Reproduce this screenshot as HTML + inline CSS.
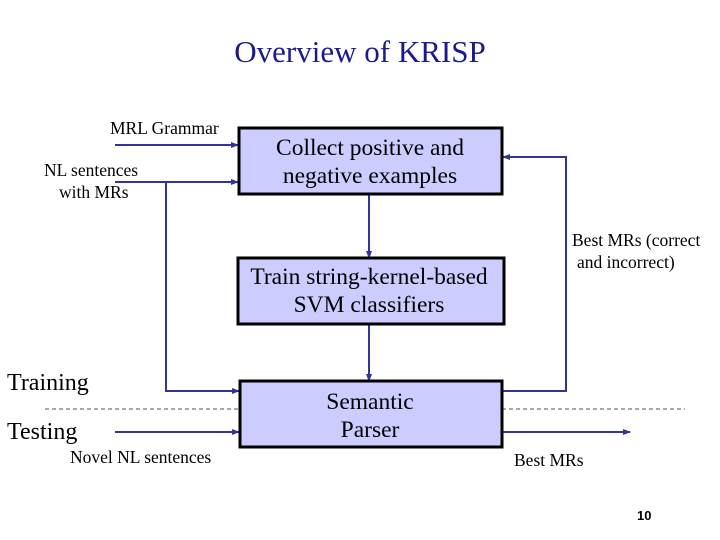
<!DOCTYPE html>
<html><head><style>
body{margin:0;width:720px;height:540px;background:#fff;overflow:hidden}
svg{display:block}
text{font-family:"Liberation Serif",serif;fill:#000}
</style></head><body>
<svg width="720" height="540" viewBox="0 0 720 540">
<defs><marker id="a" markerWidth="8" markerHeight="8" refX="7" refY="4" orient="auto" markerUnits="userSpaceOnUse"><path d="M0,1 L8,4 L0,7 Z" fill="#333399"/></marker></defs>
<text x="360" y="62" text-anchor="middle" font-size="31" style="fill:#1a1a8c">Overview of KRISP</text>
<g stroke="#333399" stroke-width="2" fill="none">
<line x1="115" y1="145" x2="238" y2="145" marker-end="url(#a)"/>
<line x1="115" y1="182" x2="238" y2="182" marker-end="url(#a)"/>
<polyline points="166,182 166,391 239,391" marker-end="url(#a)"/>
<line x1="369" y1="194" x2="369" y2="258" marker-end="url(#a)"/>
<line x1="369" y1="324" x2="369" y2="381" marker-end="url(#a)"/>
<polyline points="502,391 566,391 566,157 503,157" marker-end="url(#a)"/>
<line x1="115" y1="432" x2="239" y2="432" marker-end="url(#a)"/>
<line x1="502" y1="432" x2="630" y2="432" marker-end="url(#a)"/>
</g>
<g stroke="#555" stroke-width="1" stroke-dasharray="4,3">
<line x1="45" y1="409" x2="239" y2="409"/><line x1="502" y1="409" x2="685" y2="409"/>
</g>
<g fill="#ccccff" stroke="#000" stroke-width="3">
<rect x="239" y="128" width="263" height="66"/>
<rect x="238" y="258" width="266" height="66"/>
<rect x="240" y="381" width="262" height="66"/>
</g>
<g font-size="23.5" text-anchor="middle">
<text x="370" y="155">Collect positive and</text>
<text x="370" y="183">negative examples</text>
<text x="369" y="284">Train string-kernel-based</text>
<text x="369" y="312">SVM classifiers</text>
<text x="370" y="409">Semantic</text>
<text x="370" y="437">Parser</text>
</g>
<g font-size="17.5">
<text x="110" y="134">MRL Grammar</text>
<text x="44" y="176">NL sentences</text>
<text x="59" y="198">with MRs</text>
<text x="572" y="246">Best MRs (correct</text>
<text x="577" y="268">and incorrect)</text>
<text x="70" y="463">Novel NL sentences</text>
<text x="514" y="466">Best MRs</text>
</g>
<g font-size="24">
<text x="7" y="390">Training</text>
<text x="7" y="439">Testing</text>
</g>
<text x="637" y="520" font-size="13" font-weight="bold" style="font-family:'Liberation Sans',sans-serif">10</text>
</svg>
</body></html>
